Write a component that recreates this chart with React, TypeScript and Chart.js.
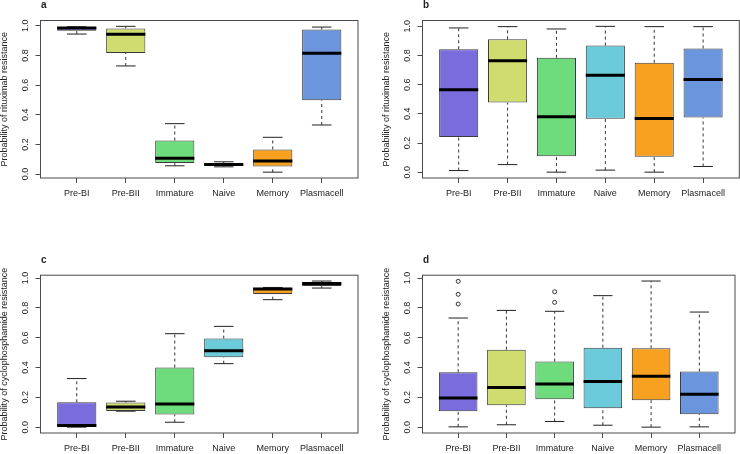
import { useEffect, useRef } from "react";
import { Chart, registerables } from "chart.js";
Chart.register(...registerables);

const FONT = '"Liberation Sans", Arial, Helvetica, sans-serif';
const TEXT = "#222222";
const FRAME = "#4a4a4a";

const categories = ["Pre-BI", "Pre-BII", "Immature", "Naive", "Memory", "Plasmacell"];
const boxColors = ["#7B6CDE", "#CFDD6E", "#6EDC7C", "#6CCBDA", "#F8A01F", "#6B95DC"];
const yTicks = [0, 0.2, 0.4, 0.6, 0.8, 1.0];

// Panel a: rituximab resistance
const aLower = [0.944, 0.729, 0.056, 0.049, 0.013, 0.331];
const aQ1 = [0.966, 0.817, 0.074, 0.058, 0.051, 0.497];
const aMedian = [0.984, 0.942, 0.107, 0.065, 0.089, 0.814];
const aQ3 = [0.991, 0.982, 0.226, 0.072, 0.166, 0.975];
const aUpper = [0.993, 0.996, 0.34, 0.083, 0.248, 0.991];
const aOutliers: number[][] = [[], [], [], [], [], []];

// Panel b: rituximab resistance
const bLower = [0.011, 0.052, 0.0, 0.014, 0.0, 0.039];
const bQ1 = [0.241, 0.477, 0.109, 0.366, 0.105, 0.375];
const bMedian = [0.566, 0.764, 0.38, 0.664, 0.368, 0.636];
const bQ3 = [0.843, 0.911, 0.784, 0.868, 0.75, 0.848];
const bUpper = [0.989, 0.998, 0.982, 1.0, 0.998, 0.998];
const bOutliers: number[][] = [[], [], [], [], [], []];

// Panel c: cyclophosphamide resistance
const cLower = [0.0, 0.107, 0.033, 0.426, 0.855, 0.933];
const cQ1 = [0.002, 0.108, 0.085, 0.469, 0.893, 0.946];
const cMedian = [0.011, 0.136, 0.156, 0.513, 0.926, 0.964];
const cQ3 = [0.167, 0.165, 0.4, 0.594, 0.935, 0.973];
const cUpper = [0.326, 0.174, 0.627, 0.676, 0.937, 0.98];
const cOutliers: number[][] = [[], [], [], [], [], []];

// Panel d: cyclophosphamide resistance
const dLower = [0.002, 0.016, 0.038, 0.013, 0.0, 0.002];
const dQ1 = [0.107, 0.147, 0.188, 0.127, 0.181, 0.087];
const dMedian = [0.196, 0.266, 0.29, 0.306, 0.342, 0.221];
const dQ3 = [0.368, 0.52, 0.44, 0.533, 0.529, 0.373];
const dUpper = [0.732, 0.783, 0.777, 0.882, 0.98, 0.772];
const dOutliers: number[][] = [[0.826, 0.891, 0.978], [], [0.837, 0.908], [], [], []];

const titleRitux = "Probability of rituximab resistance";
const titleCyclo = "Probability of cyclophosphamide resistance";

type Stats = {
  lower: number[];
  q1: number[];
  median: number[];
  q3: number[];
  upper: number[];
  outliers: number[][];
};

type Layout = {
  letter: string;
  title: string;
  left: number;
  top: number;
  frameLeft: number;
  frameRight: number;
  frameTop: number;
  frameBottom: number;
  titleX: number;
};

const W = 370;
const H = 227;

const decorPlugin = {
  id: "decor",
  afterDraw(chart: any, _args: any, opts: any) {
    const { ctx, chartArea: a, scales } = chart;
    ctx.save();
    ctx.strokeStyle = FRAME;
    ctx.lineWidth = 1;
    ctx.strokeRect(a.left, a.top, a.right - a.left, a.bottom - a.top);

    ctx.fillStyle = TEXT;
    ctx.font = `9px ${FONT}`;
    ctx.textAlign = "center";
    ctx.textBaseline = "middle";
    for (const v of yTicks) {
      const y = scales.y.getPixelForValue(v);
      ctx.save();
      ctx.translate(a.left - 15, y);
      ctx.rotate(-Math.PI / 2);
      ctx.fillText(v.toFixed(1), 0, 0);
      ctx.restore();
    }
    ctx.save();
    ctx.translate(opts.titleX, (a.top + a.bottom) / 2);
    ctx.rotate(-Math.PI / 2);
    ctx.fillText(opts.title, 0, 0);
    ctx.restore();

    ctx.font = `bold 10px ${FONT}`;
    ctx.textAlign = "left";
    ctx.fillText(opts.letter, a.left + 0.5, a.top - 15);
    ctx.restore();
  },
};

function unitPx(chart: any, units: number) {
  const s = chart.scales.x;
  return Math.abs(s.getPixelForValue(1 + units) - s.getPixelForValue(1));
}

function buildConfig(st: Stats, lay: Layout): any {
  const n = categories.length;
  const all = [...st.lower, ...st.upper, ...st.outliers.flat()];
  const lo = Math.min(...all);
  const hi = Math.max(...all);
  const yMin = lo - 0.04 * (hi - lo);
  const yMax = hi + 0.04 * (hi - lo);
  const xMin = 0.5 - 0.04 * n;
  const xMax = n + 0.5 + 0.04 * n;

  const whiskers: any[] = [];
  const staples: any[] = [];
  const medians: any[] = [];
  const outs: any[] = [];
  categories.forEach((_c, i) => {
    const x = i + 1;
    whiskers.push({ x, y: st.lower[i] }, { x, y: st.q1[i] }, { x, y: null });
    whiskers.push({ x, y: st.q3[i] }, { x, y: st.upper[i] }, { x, y: null });
    staples.push({ x, y: st.lower[i] }, { x, y: st.upper[i] });
    medians.push({ x, y: st.median[i] });
    st.outliers[i].forEach((v) => outs.push({ x, y: v }));
  });

  return {
    type: "bar",
    data: {
      datasets: [
        {
          type: "bar",
          data: categories.map((_c, i) => ({ x: i + 1, y: [st.q1[i], st.q3[i]] })),
          backgroundColor: boxColors,
          borderColor: "#3a3a3a",
          borderWidth: 1,
          borderSkipped: false,
          barPercentage: 1,
          categoryPercentage: 0.8,
          order: 2,
        },
        {
          type: "line",
          data: whiskers,
          borderColor: "#333333",
          borderWidth: 1,
          borderDash: [3, 3],
          pointRadius: 0,
          spanGaps: false,
          fill: false,
          order: 3,
        },
        {
          type: "line",
          data: staples,
          showLine: false,
          pointStyle: "line",
          pointRadius: (ctx: any) => unitPx(ctx.chart, 0.2),
          pointBorderWidth: 1,
          pointBorderColor: "#222222",
          order: 3,
        },
        {
          type: "line",
          data: medians,
          showLine: false,
          pointStyle: "line",
          pointRadius: (ctx: any) => unitPx(ctx.chart, 0.4),
          pointBorderWidth: 3,
          pointBorderColor: "#000000",
          order: 0,
        },
        {
          type: "line",
          data: outs,
          showLine: false,
          pointStyle: "circle",
          pointRadius: 2,
          pointBorderWidth: 1,
          pointBorderColor: "#333333",
          pointBackgroundColor: "rgba(0,0,0,0)",
          order: 1,
        },
      ],
    },
    options: {
      responsive: false,
      animation: false,
      events: [],
      layout: {
        padding: { top: lay.frameTop, right: W - lay.frameRight, left: 0, bottom: 0 },
      },
      plugins: {
        legend: { display: false },
        tooltip: { enabled: false },
        decor: { letter: lay.letter, title: lay.title, titleX: lay.titleX },
      },
      scales: {
        x: {
          type: "linear",
          min: xMin,
          max: xMax,
          offset: false,
          afterBuildTicks: (s: any) => {
            s.ticks = categories.map((_c, i) => ({ value: i + 1 }));
          },
          afterFit: (s: any) => {
            s.height = H - lay.frameBottom;
          },
          ticks: {
            autoSkip: false,
            maxRotation: 0,
            minRotation: 0,
            padding: 5,
            color: TEXT,
            font: { family: FONT, size: 9 },
            callback: (v: any) => categories[Math.round(v) - 1] ?? "",
          },
          grid: {
            offset: false,
            drawOnChartArea: false,
            drawTicks: true,
            tickLength: 5,
            color: FRAME,
            lineWidth: 1,
          },
          border: { display: false },
        },
        y: {
          type: "linear",
          min: yMin,
          max: yMax,
          beginAtZero: false,
          afterBuildTicks: (s: any) => {
            s.ticks = yTicks.map((v) => ({ value: v }));
          },
          afterFit: (s: any) => {
            s.width = lay.frameLeft;
          },
          ticks: { display: false },
          grid: {
            drawOnChartArea: false,
            drawTicks: true,
            tickLength: 5,
            color: FRAME,
            lineWidth: 1,
          },
          border: { display: false },
        },
      },
    },
    plugins: [decorPlugin],
  };
}

function BoxPanel({ stats, layout }: { stats: Stats; layout: Layout }) {
  const ref = useRef<HTMLCanvasElement>(null);
  useEffect(() => {
    const chart = new Chart(ref.current as HTMLCanvasElement, buildConfig(stats, layout));
    return () => chart.destroy();
  }, []);
  return (
    <canvas
      ref={ref}
      width={W}
      height={H}
      style={{ position: "absolute", left: layout.left, top: layout.top, width: W, height: H }}
    />
  );
}

const statsA: Stats = { lower: aLower, q1: aQ1, median: aMedian, q3: aQ3, upper: aUpper, outliers: aOutliers };
const statsB: Stats = { lower: bLower, q1: bQ1, median: bMedian, q3: bQ3, upper: bUpper, outliers: bOutliers };
const statsC: Stats = { lower: cLower, q1: cQ1, median: cMedian, q3: cQ3, upper: cUpper, outliers: cOutliers };
const statsD: Stats = { lower: dLower, q1: dQ1, median: dMedian, q3: dQ3, upper: dUpper, outliers: dOutliers };

const layoutA: Layout = { letter: "a", title: titleRitux, left: 0, top: 0, frameLeft: 40.5, frameRight: 358, frameTop: 20.5, frameBottom: 178, titleX: 4.5 };
const layoutB: Layout = { letter: "b", title: titleRitux, left: 370, top: 0, frameLeft: 52.5, frameRight: 369.3, frameTop: 20.5, frameBottom: 178, titleX: 17 };
const layoutC: Layout = { letter: "c", title: titleCyclo, left: 0, top: 227, frameLeft: 40.5, frameRight: 358, frameTop: 48.2, frameBottom: 206, titleX: 4.5 };
const layoutD: Layout = { letter: "d", title: titleCyclo, left: 370, top: 227, frameLeft: 52.5, frameRight: 369.3, frameTop: 48.2, frameBottom: 206, titleX: 17 };

export default function App() {
  return (
    <div style={{ position: "fixed", left: 0, top: 0, width: 740, height: 454, background: "#ffffff", overflow: "hidden" }}>
      <BoxPanel stats={statsA} layout={layoutA} />
      <BoxPanel stats={statsB} layout={layoutB} />
      <BoxPanel stats={statsC} layout={layoutC} />
      <BoxPanel stats={statsD} layout={layoutD} />
    </div>
  );
}
